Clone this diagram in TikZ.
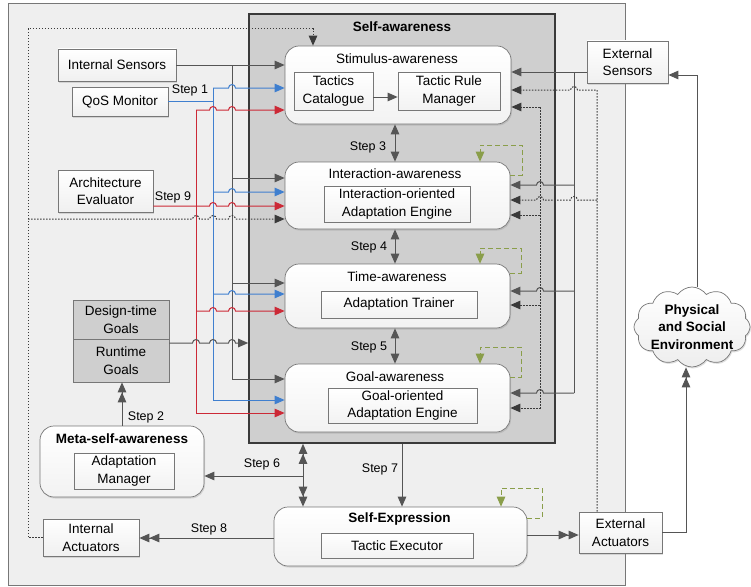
\documentclass[tikz,border=0pt]{standalone}
\usepackage{fontspec}
\setmainfont{Liberation Sans}
\usetikzlibrary{arrows.meta,shapes.symbols,shadows}
\definecolor{outerfill}{HTML}{EFEFEF}
\definecolor{safill}{HTML}{CFCFCF}
\definecolor{linegray}{HTML}{555555}
\definecolor{bordergray}{HTML}{777777}
\definecolor{qblue}{HTML}{3F7FCF}
\definecolor{qred}{HTML}{CC2936}
\definecolor{qgreen}{HTML}{8A9E4A}
\definecolor{darkline}{HTML}{3A3A3A}
% hop over a vertical line at x=#1 on a horizontal line y=#2 (rightwards / leftwards)
\newcommand\hp[2]{-- (#1-3.5,#2) arc[start angle=180,end angle=0,radius=3.5pt]}
\newcommand\hpl[2]{-- (#1+3.5,#2) arc[start angle=0,end angle=180,radius=3.5pt]}
\begin{document}
\begin{tikzpicture}[x=1pt,y=-1pt,
  >={Triangle[length=10pt,width=8.5pt]},
  every node/.style={font=\fontsize{13.5}{17.5}\selectfont, align=center, inner sep=0pt},
  shad/.style={drop shadow={shadow xshift=1pt,shadow yshift=-1.5pt,opacity=0.25}},
  plainbox/.style={draw=bordergray, line width=0.7pt, top color=white, bottom color=gray!12, shad},
  innerbox/.style={draw=bordergray, line width=0.7pt, top color=white, bottom color=gray!10},
  roundbox/.style={draw=bordergray, line width=0.7pt, rounded corners=14pt, top color=white, bottom color=gray!10, shad},
  goalbox/.style={draw=bordergray, line width=0.7pt, fill=safill},
  steplbl/.style={font=\fontsize{12.5}{15}\selectfont},
  titlelbl/.style={font=\fontsize{13.5}{17.5}\selectfont\bfseries},
  gline/.style={draw=linegray, line width=1pt},
  bline/.style={draw=qblue, line width=1pt},
  rline/.style={draw=qred, line width=1pt},
  dline/.style={draw=darkline, line width=1pt, dash pattern=on 1.6pt off 1.4pt},
  grn/.style={draw=qgreen, line width=1pt, dash pattern=on 5pt off 3pt}]
\useasboundingbox (0,0) rectangle (751,586);
% containers
\node[draw=bordergray, line width=0.8pt, fill=outerfill, minimum width=617, minimum height=582] (outer) at (316.5,294) {};
\node[draw=darkline, line width=1.6pt, fill=safill, minimum width=306, minimum height=429] (sa) at (402,228.5) {};
\node[titlelbl] (satitle) at (402,27) {Self-awareness};
% awareness levels
\node[roundbox, minimum width=226, minimum height=78] (stim) at (398,85) {};
\node (stimt) at (397,59) {Stimulus-awareness};
\node[innerbox, minimum width=79, minimum height=38] (tc) at (333.5,91) {Tactics\\Catalogue};
\node[innerbox, minimum width=102, minimum height=38] (trm) at (449,91) {Tactic Rule\\Manager};
\node[roundbox, minimum width=225, minimum height=67] (inter) at (397.5,195.5) {};
\node (intert) at (395,174) {Interaction-awareness};
\node[innerbox, minimum width=146, minimum height=36] (iae) at (397,204) {Interaction-oriented\\Adaptation Engine};
\node[roundbox, minimum width=225, minimum height=64] (time) at (397.5,296) {};
\node (timet) at (397,277) {Time-awareness};
\node[innerbox, minimum width=156, minimum height=27] (at) at (399,304.5) {Adaptation Trainer};
\node[roundbox, minimum width=225, minimum height=68] (goal) at (397.5,398) {};
\node (goalt) at (395,377) {Goal-awareness};
\node[innerbox, minimum width=149, minimum height=35] (goae) at (402.5,405.5) {Goal-oriented\\Adaptation Engine};
% self-expression
\node[roundbox, minimum width=253, minimum height=59] (se) at (400.5,536.5) {};
\node[titlelbl] (set) at (399.5,519) {Self-Expression};
\node[innerbox, minimum width=152, minimum height=25] (te) at (397,545.5) {Tactic Executor};
% meta
\node[roundbox, minimum width=164, minimum height=71] (meta) at (122,461.5) {};
\node[titlelbl] (metat) at (122,439) {Meta-self-awareness};
\node[innerbox, minimum width=100, minimum height=36] (am) at (124,471) {Adaptation\\Manager};
% goals
\node[goalbox, minimum width=96, minimum height=39] (dg) at (121,319.5) {Design-time\\Goals};
\node[goalbox, minimum width=96, minimum height=43] (rg) at (121,360.5) {Runtime\\Goals};
% left boxes
\node[plainbox, minimum width=118, minimum height=32] (is) at (117,65) {Internal Sensors};
\node[plainbox, minimum width=96, minimum height=29] (qos) at (120,101.5) {QoS Monitor};
\node[plainbox, minimum width=95, minimum height=42] (ae) at (105.5,191) {Architecture\\Evaluator};
\node[plainbox, minimum width=96, minimum height=37] (ia) at (91,537.5) {Internal\\Actuators};
% right boxes
\node[plainbox, minimum width=81, minimum height=42] (es) at (627.5,62) {External\\Sensors};
\node[plainbox, minimum width=83, minimum height=41] (ea) at (620.5,532.5) {External\\Actuators};
\node[cloud, cloud puffs=12, cloud puff arc=110, aspect=1.5, draw=bordergray, line width=0.7pt,
      top color=white, bottom color=gray!14, minimum width=116pt, minimum height=80pt, shad] (env) at (692,327) {};
\node[titlelbl] (envt) at (692,327) {Physical\\and Social\\Environment};
% ---------- connectors: left ----------
\draw[gline,->] (is.east) -- (stim.west |- is.east);
\draw[gline] (232,65) -- (232,379);
\draw[gline,->] (232,178) -- (inter.west |- 0,178);
\draw[gline,->] (232,283) -- (time.west |- 0,283);
\draw[gline,->] (232,379) -- (goal.west |- 0,379);
\draw[bline, line width=1.8pt] (qos.east) -- (213,101.5);
\draw[bline] (213,88) -- (213,400);
\draw[bline,->] (213,88) \hp{232}{88} -- (stim.west |- 0,88);
\draw[bline,->] (213,192) \hp{232}{192} -- (inter.west |- 0,192);
\draw[bline,->] (213,294) \hp{232}{294} -- (time.west |- 0,294);
\draw[bline,->] (213,400) -- (goal.west |- 0,400);
\draw[rline] (196,110) -- (196,413);
\draw[rline,->] (196,110) \hp{213}{110} \hp{232}{110} -- (stim.west |- 0,110);
\draw[rline,->] (ae.east |- 0,206) \hp{213}{206} \hp{232}{206} -- (inter.west |- 0,206);
\draw[rline,->] (196,311) \hp{213}{311} \hp{232}{311} -- (time.west |- 0,311);
\draw[rline,->] (196,413) -- (goal.west |- 0,413);
\draw[dline,->] (ia.west) -- (28,537.5) -- (28,29) -- (313,29) -- (313,0 |- stim.north);
\draw[dline,->] (28,219) \hp{196}{219} \hp{213}{219} \hp{232}{219} -- (inter.west |- 0,219);
\draw[gline,->] (rg.east |- 0,343) \hp{196}{343} \hp{213}{343} \hp{232}{343} -- (sa.west |- 0,343);
% ---------- connectors: right ----------
\draw[gline,->] (es.west |- 0,72) -- (stim.east |- 0,72);
\draw[gline] (574,72) -- (574,393);
\draw[gline,->] (574,185) \hpl{540}{185} -- (inter.east |- 0,185);
\draw[gline,->] (574,291) \hpl{540}{291} -- (time.east |- 0,291);
\draw[gline,->] (574,393) \hpl{540}{393} -- (goal.east |- 0,393);
\draw[dline,->] (597,0 |- ea.north) -- (597,90) \hpl{574}{90} -- (stim.east |- 0,90);
\draw[dline,->] (597,200) \hpl{574}{200} \hpl{540}{200} -- (inter.east |- 0,200);
\draw[dline,->] (540,107) -- (540,408) -- (goal.east |- 0,408);
\draw[dline,->] (540,107) -- (stim.east |- 0,107);
\draw[dline,->] (540,215) -- (inter.east |- 0,215);
\draw[dline,->] (540,305) -- (time.east |- 0,305);
\draw[gline,->] (697,0 |- env.north) -- (697,75) -- (es.east |- 0,75);
\draw[gline,->>] (ea.east) -- (686,532.5) -- (686,0 |- env.south);
% ---------- steps ----------
\draw[gline,->] (tc.east |- 0,97) -- (trm.west |- 0,97);
\draw[gline,<->] (395,0 |- stim.south) -- (395,0 |- inter.north);
\draw[gline,<->] (395,0 |- inter.south) -- (395,0 |- time.north);
\draw[gline,<->] (395,0 |- time.south) -- (395,0 |- goal.north);
\draw[gline,->>] (meta.north) -- (meta.north |- rg.south);
\draw[gline,<<->>] (303,0 |- sa.south) -- (303,0 |- se.north);
\draw[gline,->] (303,476) -- (meta.east |- 0,476);
\draw[gline,->] (402,0 |- sa.south) -- (402,0 |- se.north);
\draw[gline,->>] (se.west |- 0,538) -- (ia.east |- 0,538);
\draw[gline,->>] (se.east |- 0,535) -- (ea.west |- 0,535);
% green self loops
\draw[grn,->] (inter.east |- 0,175) -- (522,175) -- (522,145) -- (480,145) -- (480,0 |- inter.north);
\draw[grn,->] (time.east |- 0,273) -- (521,273) -- (521,248) -- (480,248) -- (480,0 |- time.north);
\draw[grn,->] (goal.east |- 0,377) -- (521,377) -- (521,347) -- (480,347) -- (480,0 |- goal.north);
\draw[grn,->] (se.east |- 0,518) -- (542,518) -- (542,488) -- (501,488) -- (501,0 |- se.north);
% step labels
\node[steplbl] (s1) at (190,90) {Step 1};
\node[steplbl] (s9) at (173,197) {Step 9};
\node[steplbl] (s2) at (146,417) {Step 2};
\node[steplbl] (s3) at (368,147) {Step 3};
\node[steplbl] (s4) at (369,247) {Step 4};
\node[steplbl] (s5) at (369,347) {Step 5};
\node[steplbl] (s6) at (262,464) {Step 6};
\node[steplbl] (s7) at (380,469) {Step 7};
\node[steplbl] (s8) at (209,529) {Step 8};
\end{tikzpicture}
\end{document}
